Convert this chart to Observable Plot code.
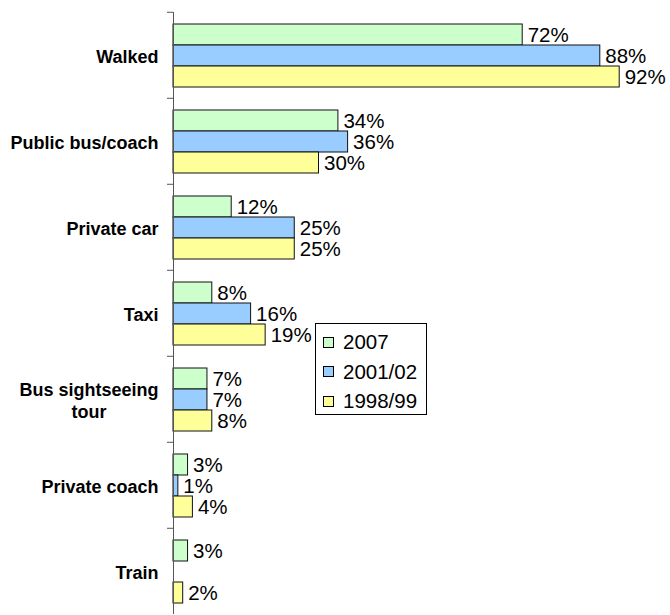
<!DOCTYPE html>
<html>
<head>
<meta charset="utf-8">
<script src="https://cdn.jsdelivr.net/npm/d3@7"></script>
<script src="https://cdn.jsdelivr.net/npm/@observablehq/plot@0.6"></script>
<style>
  html, body { margin: 0; padding: 0; background: #fff; }
  #wrap { position: relative; width: 670px; height: 615px; font-family: "Liberation Sans", Arial, sans-serif; }
  #legend { position: absolute; left: 315px; top: 323px; width: 112px; height: 92px; border: 1px solid #000; background: #fff; box-sizing: border-box; }
  .item { position: absolute; left: 7px; height: 24px; display: flex; align-items: center; font-size: 20.5px; color: #000; }
  .sw { width: 9px; height: 9px; border: 1px solid #000; margin-right: 9px; }
</style>
</head>
<body>
<div id="wrap"></div>
<script>
const categories = ["Walked", "Public bus/coach", "Private car", "Taxi", "Bus sightseeing\ntour", "Private coach", "Train"];
const series = ["2007", "2001/02", "1998/99"];
const values2007 = [72, 34, 12, 8, 7, 3, 3];
const values2001 = [88, 36, 25, 16, 7, 1, null];
const values1998 = [92, 30, 25, 19, 8, 4, 2];
const colors = ["#ccffcc", "#99ccff", "#ffff99"];

const seriesValues = [values2007, values2001, values1998];
const data = [];
categories.forEach((c, i) => {
  series.forEach((s, j) => {
    const v = seriesValues[j][i];
    if (v != null) data.push({cat: c, series: s, value: v});
  });
});

const H = 615, MT = 10, MB = 0;
const band = (H - MT - MB) / categories.length;

const chart = Plot.plot({
  width: 670,
  height: H,
  marginLeft: 173,
  marginRight: 12,
  marginTop: MT,
  marginBottom: MB,
  style: {fontFamily: '"Liberation Sans", Arial, sans-serif', background: "#fff", color: "#000"},
  x: {domain: [0, 100], axis: null},
  y: {domain: series, axis: null, paddingInner: 0, paddingOuter: 0.5},
  fy: {domain: categories, padding: 0, axis: null},
  color: {domain: series, range: colors},
  marks: [
    Plot.barX(data, {x: "value", y: "series", fy: "cat", fill: "series", stroke: "#111", strokeWidth: 1}),
    Plot.text(data, {x: "value", y: "series", fy: "cat", text: d => d.value + "%", dx: 5, textAnchor: "start", fontSize: 20.5, fill: "#000"}),
    Plot.ruleX([0], {stroke: "#555", strokeWidth: 1}),
    Plot.axisFy({anchor: "left", tickSize: 6, tickFormat: () => "", dy: -band / 2, stroke: "#555", label: null}),
    Plot.text(categories, {fy: d => d, text: d => d, frameAnchor: "left", dx: -15, textAnchor: "end", fontSize: 18, fontWeight: "bold", lineHeight: 1.22, fill: "#000"})
  ]
});

const wrap = document.getElementById("wrap");
wrap.appendChild(chart);

// center wrapped lines within the right-aligned label block
chart.querySelectorAll("text").forEach(t => {
  const spans = t.querySelectorAll("tspan");
  if (spans.length > 1) {
    const ws = Array.from(spans, s => s.getComputedTextLength());
    const maxW = Math.max(...ws);
    spans.forEach((s, k) => s.setAttribute("x", -(maxW - ws[k]) / 2));
  }
});

const legend = document.createElement("div");
legend.id = "legend";
series.forEach((s, j) => {
  const it = document.createElement("div");
  it.className = "item";
  it.style.top = (6 + j * 29.5) + "px";
  const sw = document.createElement("div");
  sw.className = "sw";
  sw.style.background = colors[j];
  it.appendChild(sw);
  const tx = document.createElement("span");
  tx.textContent = s;
  it.appendChild(tx);
  legend.appendChild(it);
});
wrap.appendChild(legend);
</script>
</body>
</html>
